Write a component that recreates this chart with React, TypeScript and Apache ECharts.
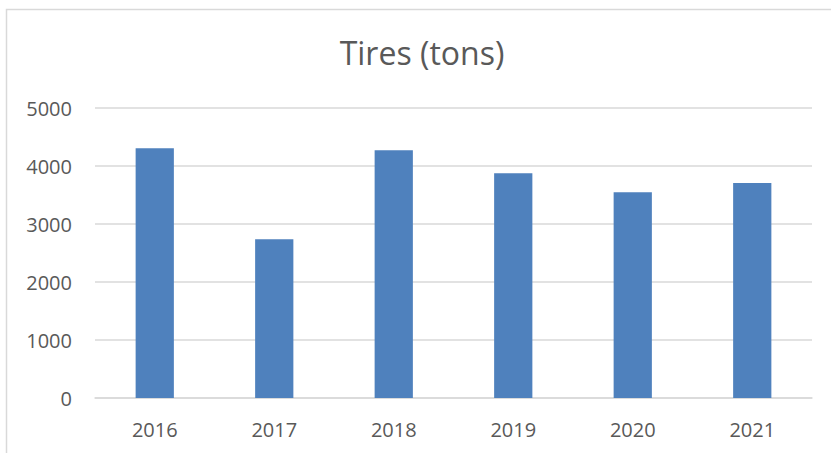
import React, { useEffect, useRef } from "react";
import * as echarts from "echarts";

const categories = ["2016", "2017", "2018", "2019", "2020", "2021"];
const values = [4305, 2736, 4270, 3874, 3546, 3707];
const titleText = "Tires (tons)";

export default function App() {
  const ref = useRef<HTMLDivElement>(null);
  useEffect(() => {
    if (!ref.current) return;
    const chart = echarts.init(ref.current, null, { renderer: "svg" });
    const font = "Open Sans, Liberation Sans, sans-serif";
    chart.setOption({
      animation: false,
      backgroundColor: "#ffffff",
      textStyle: { fontFamily: font },
      title: {
        text: titleText,
        left: 417,
        top: 31,
        textAlign: "center",
        textStyle: { color: "#595959", fontSize: 32, fontWeight: "normal", fontFamily: font },
      },
      graphic: [
        {
          type: "rect",
          shape: { x: 6.5, y: 9.5, width: 900, height: 600 },
          style: { fill: "none", stroke: "#d9d9d9", lineWidth: 1.5 },
          silent: true,
        },
      ],
      grid: { left: 95, right: 19, top: 108, bottom: 55, containLabel: false },
      xAxis: {
        type: "category",
        data: categories,
        axisLine: { show: true, lineStyle: { color: "#d9d9d9", width: 1.5 } },
        axisTick: { show: false },
        axisLabel: { color: "#595959", fontSize: 20, margin: 21, fontFamily: font },
      },
      yAxis: {
        type: "value",
        min: 0,
        max: 5000,
        interval: 1000,
        axisLine: { show: false },
        axisTick: { show: false },
        splitLine: { lineStyle: { color: "#d9d9d9", width: 1.5 } },
        axisLabel: {
          color: "#595959",
          fontSize: 20,
          margin: 23,
          fontFamily: font,
          formatter: (v: number) => String(v),
        },
      },
      series: [
        {
          type: "bar",
          data: values,
          barWidth: "32%",
          itemStyle: { color: "#4f81bd" },
        },
      ],
    });
    return () => chart.dispose();
  }, []);
  return (
    <div
      ref={ref}
      style={{ position: "fixed", left: 0, top: 0, width: 831, height: 453 }}
    />
  );
}
